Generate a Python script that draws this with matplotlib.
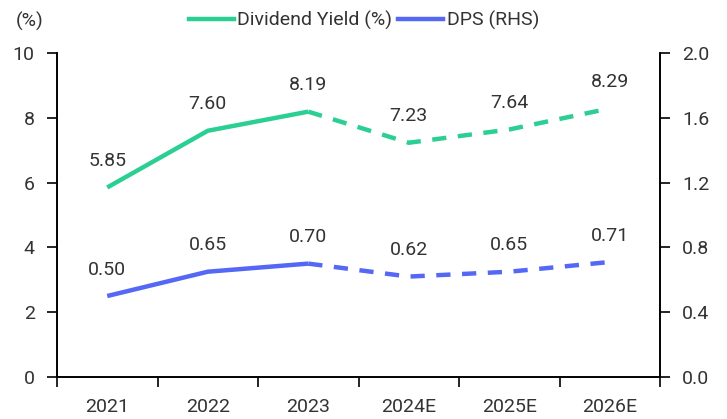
import matplotlib.pyplot as plt
from matplotlib.lines import Line2D

plt.rcParams['font.family'] = ['Roboto', 'DejaVu Sans']

# Data
years = ['2021', '2022', '2023', '2024E', '2025E', '2026E']
div_yield = [5.85, 7.60, 8.19, 7.23, 7.64, 8.29]
dps = [0.50, 0.65, 0.70, 0.62, 0.65, 0.71]
n_actual = 3  # first three are actuals, rest are estimates

green = '#2ccf93'
blue = '#5468f5'
txt = '#333333'
fs = 14

fig = plt.figure(figsize=(7.27, 4.19), dpi=100)
ax = fig.add_axes([0.0784, 0.1002, 0.8295, 0.7733])
ax2 = ax.twinx()

x = list(range(len(years)))
lw = 3.2

# Dividend yield (left axis)
ax.plot(x[:n_actual], div_yield[:n_actual], color=green, lw=lw, solid_capstyle='butt')
ax.plot(x[n_actual - 1:], div_yield[n_actual - 1:], color=green, lw=lw,
        dashes=(3.2, 2.6), dash_capstyle='butt')
for xi, v in zip(x, div_yield):
    ax.annotate(f'{v:.2f}', (xi, v), xytext=(0, 19), textcoords='offset points',
                ha='center', va='center', fontsize=fs, color=txt)

# DPS (right axis)
ax2.plot(x[:n_actual], dps[:n_actual], color=blue, lw=lw, solid_capstyle='butt')
ax2.plot(x[n_actual - 1:], dps[n_actual - 1:], color=blue, lw=lw,
         dashes=(3.2, 2.6), dash_capstyle='butt')
for xi, v in zip(x, dps):
    ax2.annotate(f'{v:.2f}', (xi, v), xytext=(0, 19), textcoords='offset points',
                 ha='center', va='center', fontsize=fs, color=txt)

# Axes setup
ax.set_xlim(-0.5, len(years) - 0.5)
ax.set_ylim(0, 10)
ax2.set_ylim(0, 2.0)
ax.set_yticks([0, 2, 4, 6, 8, 10])
ax2.set_yticks([0, 0.4, 0.8, 1.2, 1.6, 2.0])
ax2.set_yticklabels(['0.0', '0.4', '0.8', '1.2', '1.6', '2.0'])

# category ticks at boundaries, labels centred
ax.set_xticks([i - 0.5 for i in range(len(years) + 1)])
ax.set_xticklabels([])
ax.set_xticks(x, minor=True)
ax.set_xticklabels(years, minor=True)
ax.tick_params(axis='x', which='minor', length=0, pad=15, labelsize=fs, labelcolor=txt)
ax.tick_params(axis='x', which='major', length=7, width=1.2, color='black')
ax.tick_params(axis='y', length=7, width=1.2, labelsize=fs, labelcolor=txt, pad=9)
ax2.tick_params(axis='y', length=7, width=1.2, labelsize=fs, labelcolor=txt, pad=9)

for a in (ax, ax2):
    a.spines['top'].set_visible(False)
    for s in ('left', 'right', 'bottom'):
        a.spines[s].set_linewidth(1.2)

fig.text(30 / 727, 1 - 21 / 419, '(%)', ha='center', va='center', fontsize=fs, color=txt)

handles = [Line2D([], [], color=green, lw=lw), Line2D([], [], color=blue, lw=lw)]
fig.legend(handles, ['Dividend Yield (%)', 'DPS (RHS)'], loc='center',
           bbox_to_anchor=(364 / 727, 1 - 20 / 419), ncol=2, frameon=False,
           fontsize=fs, handlelength=2.3, handletextpad=0.2, columnspacing=0.3,
           labelcolor=txt)

fig.savefig('out.png', dpi=100)
